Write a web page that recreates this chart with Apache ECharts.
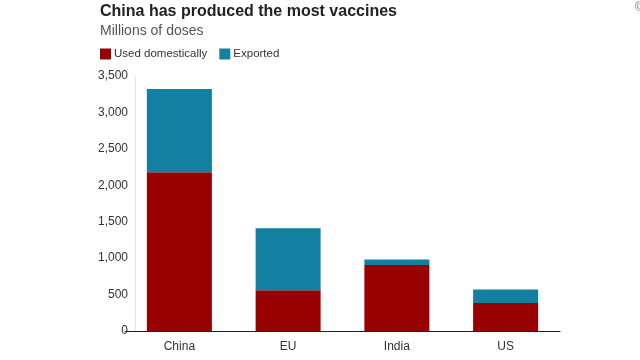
<!DOCTYPE html>
<html><head><meta charset="utf-8">
<script src="https://cdn.jsdelivr.net/npm/echarts@6/dist/echarts.min.js"></script>
<style>html,body{margin:0;padding:0;background:#fff}#c{width:640px;height:360px}</style>
</head><body><div id="c"></div>
<script>
const categories = ['China', 'EU', 'India', 'US'];
const usedDomestically = [2180, 560, 905, 385];
const exported = [1140, 850, 75, 185];
const yTicks = [0, 500, 1000, 1500, 2000, 2500, 3000, 3500];

const chart = echarts.init(document.getElementById('c'));
const font = 'Liberation Sans, Arial, sans-serif';
chart.setOption({
  animation: false,
  backgroundColor: '#fff',
  title: {
    text: 'China has produced the most vaccines',
    subtext: 'Millions of doses',
    left: 95, top: -1,
    itemGap: 4,
    textStyle: {fontFamily: font, fontSize: 16, fontWeight: 'bold', color: '#222'},
    subtextStyle: {fontFamily: font, fontSize: 14, color: '#555'}
  },
  graphic: [{type: 'text', left: 635, top: 2, style: {text: '©', font: '12px ' + font, fill: '#777'}}],
  legend: {
    left: 95, top: 43,
    icon: 'rect', itemWidth: 11, itemHeight: 11, itemGap: 12,
    textStyle: {fontFamily: font, fontSize: 11.5, color: '#333', padding: [0,0,0,-2]},
    data: ['Used domestically', 'Exported']
  },
  grid: {left: 125, width: 435, top: 76, bottom: 29},
  xAxis: {
    type: 'category', data: categories,
    axisLine: {lineStyle: {color: '#222', width: 1}},
    axisTick: {show: false},
    axisLabel: {fontFamily: font, fontSize: 12, color: '#333', margin: 10}
  },
  yAxis: {
    type: 'value', min: yTicks[0], max: yTicks[yTicks.length-1], interval: 500,
    offset: -10,
    axisLine: {show: true, lineStyle: {color: '#e4e4e4'}},
    axisTick: {show: false},
    splitLine: {show: false},
    axisLabel: {fontFamily: font, fontSize: 12, color: '#333', margin: 7,
      formatter: v => v.toLocaleString('en-US')}
  },
  series: [
    {name: 'Used domestically', type: 'bar', stack: 't', data: usedDomestically, barWidth: 65, itemStyle: {color: '#990000'}},
    {name: 'Exported', type: 'bar', stack: 't', data: exported, barWidth: 65, itemStyle: {color: '#1380A1'}}
  ]
});
</script></body></html>
